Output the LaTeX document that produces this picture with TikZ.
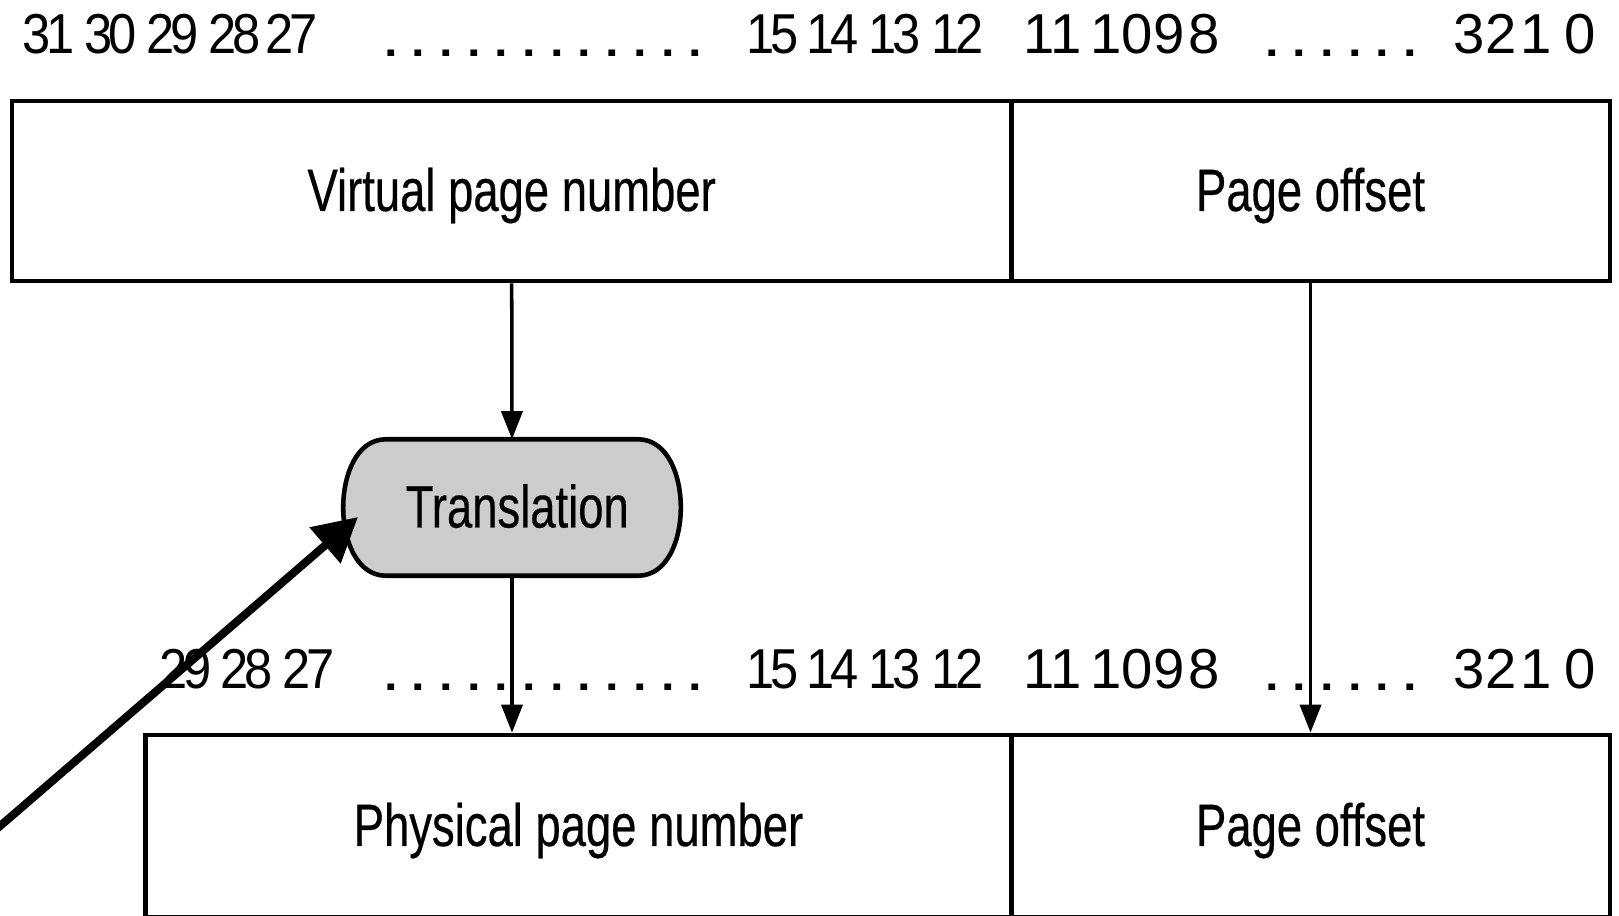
\documentclass[tikz,border=0pt]{standalone}
\usepackage{graphicx}
\usepackage{fontspec}
\setmainfont{Liberation Sans}
\newfontfamily\lblfont[FakeStretch=0.76,FakeBold=0.4]{Liberation Sans}
\newfontfamily\numfont[FakeStretch=0.9]{Liberation Sans}
\newfontfamily\digfont{Liberation Sans}
\usetikzlibrary{arrows.meta,calc,backgrounds}
\definecolor{tgray}{HTML}{CCCCCC}
\newcommand\pdot{\scalebox{1.25}[1.08]{.}\kern2.32pt}
\tikzset{
  field/.style={draw, line width=1.3pt, inner sep=0pt, minimum height=1.8cm,
    font=\lblfont\fontsize{17}{20}\selectfont, text height=15.6pt, text depth=4.25pt},
  xlat/.style={inner sep=0pt, minimum width=3.36cm, minimum height=1.35cm,
    font=\lblfont\fontsize{17}{20}\selectfont, text height=15.6pt, text depth=4.25pt},
  xlatshape/.style={draw, fill=tgray, line width=1.3pt},
  num/.style={inner sep=0pt, anchor=base, font=\numfont\fontsize{16}{19}\selectfont},
  dig/.style={inner sep=0pt, anchor=base, font=\digfont\fontsize{16}{19}\selectfont},
  dotrow/.style={inner sep=0pt, anchor=base west, font=\digfont\fontsize{16}{19}\selectfont},
  conn/.style={line width=1pt, -{Triangle[length=8pt,width=6pt]}},
  bigarr/.style={line width=2.3pt, -{Triangle[length=12.4pt,width=13pt]}}
}
\begin{document}
\begin{tikzpicture}[x=0.01cm,y=-0.01cm]
\useasboundingbox (0,0) rectangle (1619,915);

% top bit numbers
\foreach \nm/\txt/\x in {31/3\kern-1.2pt1/48.5,30/3\kern-1.2pt0/110.5,29/2\kern-1.2pt9/172.5,
    28/2\kern-1.2pt8/234.5,27/2\kern-1.2pt7/291.5,15/1\kern-1.2pt5/772.5,14/1\kern-1.2pt4/833,
    13/1\kern-1.2pt3/895,12/1\kern-1.2pt2/957.5}
  \node[num] (t\nm) at (\x,53) {\txt};
\foreach \n/\x in {11/1053,10/1121.5,9/1169,8/1204,3/1469,2/1501,1/1536,0/1580}
  \node[dig] (t\n) at (\x,53) {\n};
\node[dotrow] (tdotsA) at (380.3,56) {\pdot\pdot\pdot\pdot\pdot\pdot\pdot\pdot\pdot\pdot\pdot\pdot};
\node[dotrow] (tdotsB) at (1261.3,56) {\pdot\pdot\pdot\pdot\pdot\pdot};

% bottom bit numbers
\foreach \nm/\txt/\x in {29/2\kern-1.2pt9/186,28/2\kern-1.2pt8/246.5,27/2\kern-1.2pt7/309,
    15/1\kern-1.2pt5/772.5,14/1\kern-1.2pt4/833,13/1\kern-1.2pt3/895,12/1\kern-1.2pt2/957.5}
  \node[num] (b\nm) at (\x,688) {\txt};
\foreach \n/\x in {11/1053,10/1121.5,9/1169,8/1204,3/1469,2/1501,1/1536,0/1580}
  \node[dig] (b\n) at (\x,688) {\n};
\node[dotrow] (bdotsA) at (380.3,690) {\pdot\pdot\pdot\pdot\pdot\pdot\pdot\pdot\pdot\pdot\pdot\pdot};
\node[dotrow] (bdotsB) at (1261.3,690) {\pdot\pdot\pdot\pdot\pdot\pdot};

% fields
\node[field, minimum width=9.986cm] (vpn) at (511.7,191) {Virtual page number};
\node[field, minimum width=5.99cm] (vpo) at (1310.5,191) {Page offset};
\node[field, minimum width=8.65cm, minimum height=1.82cm] (ppn) at (578.5,826) {Physical page number};
\node[field, minimum width=5.99cm, minimum height=1.82cm] (ppo) at (1310.5,826) {Page offset};

% translation
\node[xlat] (trans) at (512,507.5) {\hspace*{3pt}Translation};
\begin{scope}[on background layer]
\path[xlatshape]
  ($(trans.north west)+(43,0)$) -- ($(trans.north east)+(-43,0)$)
  .. controls ($(trans.north east)+(-13,0)$) and ($(trans.east)+(0,-32)$) .. (trans.east)
  .. controls ($(trans.east)+(0,32)$) and ($(trans.south east)+(-13,0)$) .. ($(trans.south east)+(-43,0)$)
  -- ($(trans.south west)+(43,0)$)
  .. controls ($(trans.south west)+(13,0)$) and ($(trans.west)+(0,32)$) .. (trans.west)
  .. controls ($(trans.west)+(0,-32)$) and ($(trans.north west)+(13,0)$) .. cycle;
\end{scope}

% connectors
\draw[conn] (vpn.south) -- (trans.north);
\draw[conn] (trans.south) -- (trans.south |- ppn.north);
\draw[conn] (vpo.south) -- (ppo.north);

\coordinate (src) at (-30,852);
\coordinate (ptrtip) at (358,517);
\draw[bigarr] (src) -- (ptrtip);
\end{tikzpicture}
\end{document}
